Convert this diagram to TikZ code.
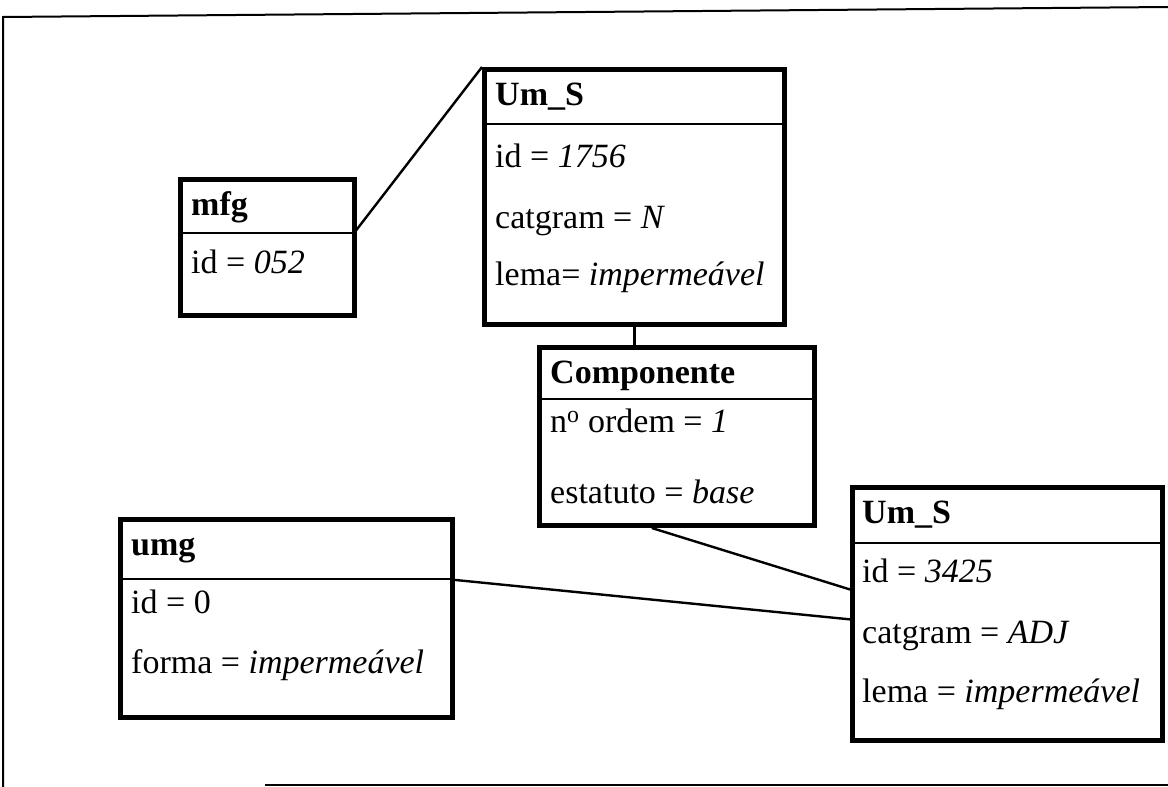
\documentclass[tikz,border=0pt]{standalone}
\usepackage{fontspec}
\setmainfont{Liberation Serif}
\usepackage{tikz}
\usetikzlibrary{calc}

\tikzset{
  classbox/.style={draw, line width=5pt, inner sep=0pt, anchor=north west},
  classhead/.style={draw, line width=1.6pt, inner sep=0pt, anchor=north west},
  attr/.style={anchor=base west, inner sep=0pt, font=\fontsize{34}{40}\selectfont},
  attrhead/.style={attr, font=\fontsize{34}{40}\selectfont\bfseries},
  link/.style={line width=2.4pt},
}

\begin{document}
\begin{tikzpicture}[x=1pt,y=-1pt]
  \useasboundingbox (0,0) rectangle (1168,787);
  \draw[line width=2pt] (1168,7) -- (3,17) -- (3,787);
  \draw[line width=2pt] (265,785) -- (1168,785);

  \node[classhead, minimum width=174pt, minimum height=55pt] (mfg-h) at (178,177) {};
  \node[classbox, minimum width=174pt, minimum height=136pt] (mfg) at (178,177) {};
  \node[attrhead] (mfg-t) at (191,215) {mfg};
  \node[attr] (mfg-id) at (191,273) {id = \textit{052}};

  \node[classhead, minimum width=300pt, minimum height=56pt] (ums1-h) at (482,67) {};
  \node[classbox, minimum width=300pt, minimum height=255pt] (ums1) at (482,67) {};
  \node[attrhead] (ums1-t) at (495,105) {Um\_S};
  \node[attr] (ums1-id) at (495,167) {id = \textit{1756}};
  \node[attr] (ums1-cat) at (495,228) {catgram = \textit{N}};
  \node[attr] (ums1-lema) at (495,285) {lema= \textit{impermeável}};

  \node[classhead, minimum width=275pt, minimum height=53pt] (comp-h) at (537,345) {};
  \node[classbox, minimum width=275pt, minimum height=178pt] (comp) at (537,345) {};
  \node[attrhead] (comp-t) at (550,383) {Componente};
  \node[attr] (comp-ord) at (550,432) {n\textsuperscript{o} ordem = \textit{1}};
  \node[attr] (comp-est) at (550,503) {estatuto = \textit{base}};

  \node[classhead, minimum width=332pt, minimum height=61pt] (umg-h) at (118,517) {};
  \node[classbox, minimum width=332pt, minimum height=198pt] (umg) at (118,517) {};
  \node[attrhead] (umg-t) at (131,555) {umg};
  \node[attr] (umg-id) at (131,613) {id = 0};
  \node[attr] (umg-forma) at (131,673) {forma = \textit{impermeável}};

  \node[classhead, minimum width=310pt, minimum height=57pt] (ums2-h) at (850,485) {};
  \node[classbox, minimum width=310pt, minimum height=253pt] (ums2) at (850,485) {};
  \node[attrhead] (ums2-t) at (862,523) {Um\_S};
  \node[attr] (ums2-id) at (862,582) {id = \textit{3425}};
  \node[attr] (ums2-cat) at (862,643) {catgram = \textit{ADJ}};
  \node[attr] (ums2-lema) at (862,702) {lema = \textit{impermeável}};

  \draw[link] (mfg-h.south east) -- (ums1.north west);
  \draw[link] (ums1.south) -- (ums1.south |- comp.north);
  \draw[link] ($(comp.south west)!0.41!(comp.south east)$) -- ($(ums2-h.south west)!0.23!(ums2.south west)$);
  \draw[link] (umg-h.south east) -- ($(ums2-h.south west)!0.38!(ums2.south west)$);
\end{tikzpicture}
\end{document}
